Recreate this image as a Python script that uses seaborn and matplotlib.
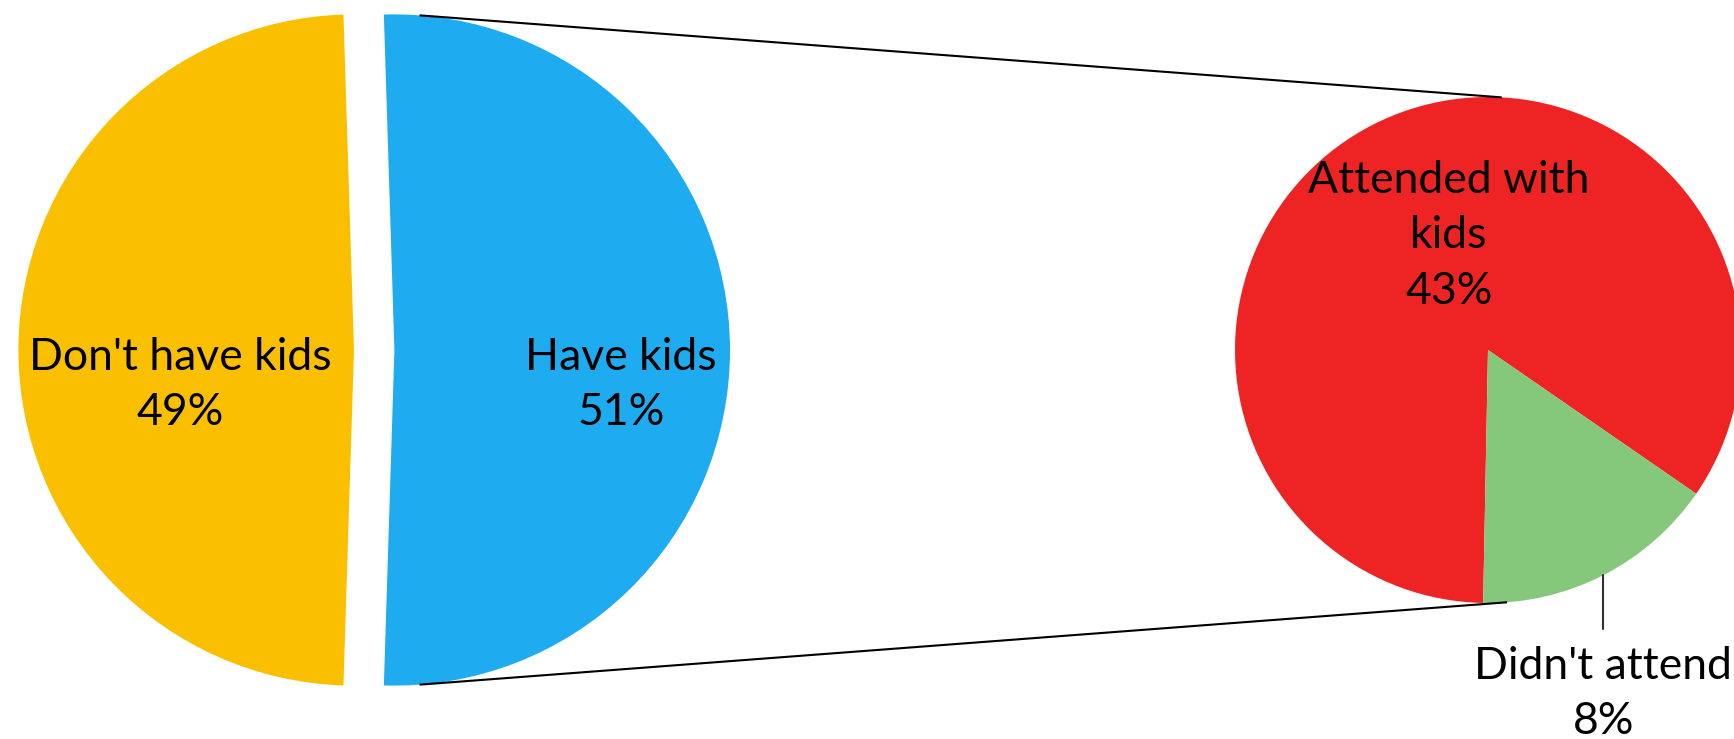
import numpy as np
import matplotlib
matplotlib.use("Agg")
import matplotlib.pyplot as plt
import seaborn as sns

# main pie: the "Have kids" slice is broken out into the small pie
main_labels = ["Have kids", "Don't have kids"]
main_values = [51, 49]
main_colors = ["#1FABEF", "#FAC000"]

sub_labels = ["Attended with\nkids", "Didn't attend"]
sub_values = [43, 8]
sub_colors = ["#EE2424", "#85C77B"]

sns.set_theme(style="white")
plt.rcParams["font.family"] = ["Lato", "DejaVu Sans"]

W, H = 1734, 739
fig = plt.figure(figsize=(W / 100, H / 100), dpi=100)
ax = fig.add_axes([0, 0, 1, 1])

# geometry in pixel-like data units
c_main = np.array([374.2, 389.0])
r_main = 335.6
expl = 20.2  # matplotlib explode is in data units
c_sub = np.array([1488.0, 389.0])
r_sub = 253.0

main_start = 180 * main_values[0] / sum(main_values)
ax.pie(main_values, colors=main_colors, startangle=main_start, counterclock=False,
       explode=[expl, expl], center=tuple(c_main), radius=r_main, frame=True,
       wedgeprops=dict(linewidth=0))

sub_start = -91.1 + 360 * sub_values[1] / sum(sub_values)
ax.pie(sub_values, colors=sub_colors, startangle=sub_start, counterclock=True,
       center=tuple(c_sub), radius=r_sub, frame=True,
       wedgeprops=dict(linewidth=0))

ax.set_xlim(0, W)
ax.set_ylim(0, H)
ax.set_aspect("equal")
ax.axis("off")


def on_circle(c, r, ang):
    a = np.deg2rad(ang)
    return c + r * np.array([np.cos(a), np.sin(a)])


# connector lines between the exploded slice and the secondary pie
c_blue = c_main + np.array([expl, 0])
for a1, a2 in [(85.7, 86.9), (-85.7, -85.7)]:
    p1 = on_circle(c_blue, r_main, a1)
    p2 = on_circle(c_sub, r_sub, a2)
    ax.plot([p1[0], p2[0]], [p1[1], p2[1]], color="black", lw=1.5,
            solid_capstyle="butt")

fs = 32
txt = dict(ha="center", va="center", fontsize=fs, color="black", linespacing=1.45)

ax.text(180, 354, f"{main_labels[1]}\n{main_values[1]}%", **txt)
ax.text(621, 354, f"{main_labels[0]}\n{main_values[0]}%", **txt)
ax.text(1449, 503, f"{sub_labels[0]}\n{sub_values[0]}%", **txt)

# leader line for the small green slice
green_mid = sub_start - 360 * sub_values[1] / sum(sub_values) / 2 + 360
p = on_circle(c_sub, r_sub, green_mid)
ax.plot([p[0], p[0]], [p[1], c_sub[1] - 1.103 * r_sub], color="#303030", lw=1.5)
ax.text(p[0], 45, f"{sub_labels[1]}\n{sub_values[1]}%", **txt)

fig.savefig("out.png", dpi=100)
